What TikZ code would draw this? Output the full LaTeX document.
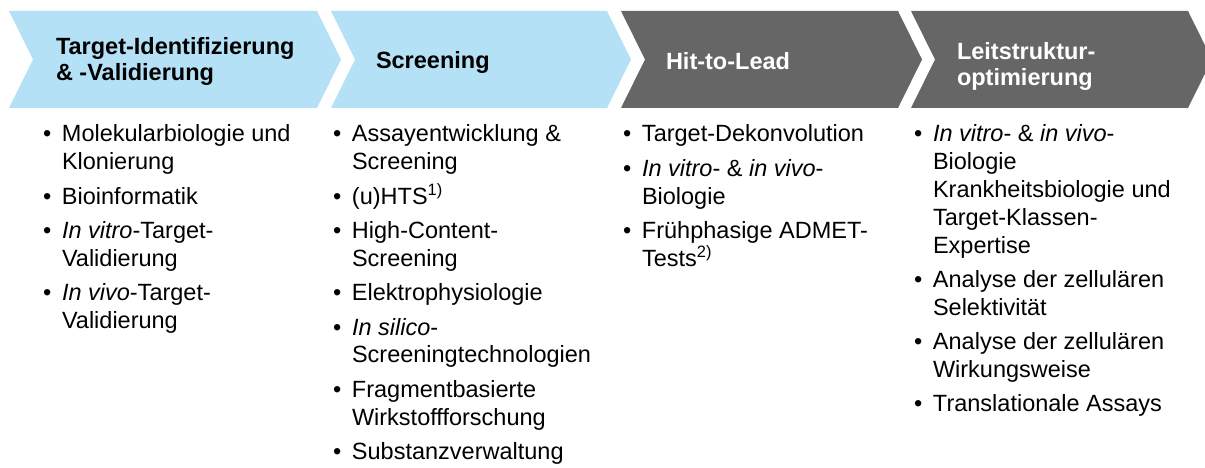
\documentclass[tikz,border=0pt]{standalone}
\usepackage{fontspec}
\setmainfont{Liberation Sans}
\definecolor{phaselight}{HTML}{B4E1F5}
\definecolor{phasedark}{HTML}{666666}

% one chevron of the process band: fill colour, left edge, right edge
\newcommand{\chevron}[3]{%
  \fill[#1] (#2,11) -- (#3,11) -- ({#3+24},59.5) -- (#3,108) -- (#2,108) -- ({#2+24},59.5) -- cycle;}

% one bullet item, continuation lines hang under the text
\newcommand{\bitem}[1]{\hangindent=19pt\hangafter=1\noindent\makebox[19pt][l]{\textbullet}#1\par}

% a column of bullet items, aligned on its first baseline
\newcommand{\bcolumn}[1]{\parbox[t]{290pt}{\fontsize{23.5pt}{27.8pt}\selectfont
  \setlength{\parskip}{6.6pt}\setlength{\parindent}{0pt}#1}}

% a phase heading, aligned on its first baseline
\newcommand{\phasehead}[1]{\parbox[t]{260pt}{\fontsize{23.5pt}{26pt}\selectfont\bfseries\raggedright #1}}

\tikzset{
  head/.style={anchor=base west, inner sep=0pt, outer sep=0pt},
  headlight/.style={head, text=black},
  headdark/.style={head, text=white},
  list/.style={anchor=base west, inner sep=0pt, outer sep=0pt, text=black},
}

\begin{document}
\begin{tikzpicture}[x=1pt, y=-1pt]
  \useasboundingbox (0,0) rectangle (1205,468);
  \clip (0,0) rectangle (1205,468);

  % process band
  \chevron{phaselight}{9}{317}
  \chevron{phaselight}{331}{607}
  \chevron{phasedark}{621}{898}
  \chevron{phasedark}{911}{1188}

  % phase headings
  \node[headlight] (h1) at (56,55) {\phasehead{Target-Identifizierung\\\& -Validierung}};
  \node[headlight] (h2) at (376,69) {\phasehead{Screening}};
  \node[headdark]  (h3) at (666,70) {\phasehead{Hit-to-Lead}};
  \node[headdark]  (h4) at (957,60) {\phasehead{Leitstruktur-\\optimierung}};

  % activities of each phase
  \node[list] (l1) at (43,142) {\bcolumn{%
    \bitem{Molekularbiologie und\\Klonierung}
    \bitem{Bioinformatik}
    \bitem{\textit{In vitro}-Target-\\Validierung}
    \bitem{\textit{In vivo}-Target-\\Validierung}}};

  \node[list] (l2) at (333,142) {\bcolumn{%
    \bitem{Assayentwicklung \&\\Screening}
    \bitem{(u)HTS\textsuperscript{1)}}
    \bitem{High-Content-\\Screening}
    \bitem{Elektrophysiologie}
    \bitem{\textit{In silico}-\\Screeningtechnologien}
    \bitem{Fragmentbasierte\\Wirkstoffforschung}
    \bitem{Substanzverwaltung}}};

  \node[list] (l3) at (623,142) {\bcolumn{%
    \bitem{Target-Dekonvolution}
    \bitem{\textit{In vitro}- \& \textit{in vivo}-\\Biologie}
    \bitem{Frühphasige ADMET-\\Tests\textsuperscript{2)}}}};

  \node[list] (l4) at (914,142) {\bcolumn{%
    \bitem{\textit{In vitro}- \& \textit{in vivo}-\\Biologie\\Krankheitsbiologie und\\Target-Klassen-\\Expertise}
    \bitem{Analyse der zellulären\\Selektivität}
    \bitem{Analyse der zellulären\\Wirkungsweise}
    \bitem{Translationale Assays}}};
\end{tikzpicture}
\end{document}
